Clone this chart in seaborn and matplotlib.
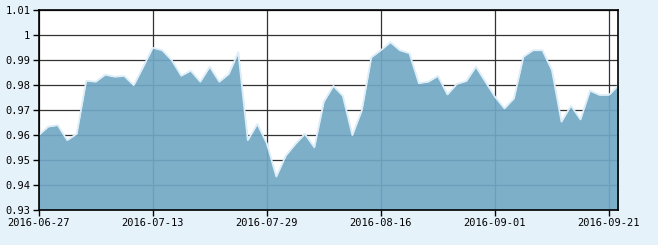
import matplotlib
matplotlib.use("Agg")
import matplotlib.pyplot as plt
import seaborn as sns
import pandas as pd

dates = [
    "2016-06-27", "2016-06-28", "2016-06-29", "2016-06-30", "2016-07-01",
    "2016-07-04", "2016-07-05", "2016-07-06", "2016-07-07", "2016-07-08",
    "2016-07-11", "2016-07-12", "2016-07-13", "2016-07-14", "2016-07-15",
    "2016-07-18", "2016-07-19", "2016-07-20", "2016-07-21", "2016-07-22",
    "2016-07-25", "2016-07-26", "2016-07-27", "2016-07-28", "2016-07-29",
    "2016-08-01", "2016-08-02", "2016-08-03", "2016-08-04", "2016-08-05",
    "2016-08-08", "2016-08-09", "2016-08-10", "2016-08-11", "2016-08-12",
    "2016-08-15", "2016-08-16", "2016-08-17", "2016-08-18", "2016-08-19",
    "2016-08-22", "2016-08-23", "2016-08-24", "2016-08-25", "2016-08-26",
    "2016-08-29", "2016-08-30", "2016-08-31", "2016-09-01", "2016-09-02",
    "2016-09-05", "2016-09-06", "2016-09-07", "2016-09-08", "2016-09-09",
    "2016-09-12", "2016-09-13", "2016-09-14", "2016-09-19", "2016-09-20",
    "2016-09-21", "2016-09-22",
]
values = [
    0.9600, 0.9634, 0.9640, 0.9580, 0.9605, 0.9818, 0.9814, 0.9842, 0.9834, 0.9837,
    0.9800, 0.9874, 0.9950, 0.9940, 0.9900, 0.9838, 0.9858, 0.9814, 0.9874, 0.9814,
    0.9845, 0.9932, 0.9580, 0.9645, 0.9567, 0.9434, 0.9518, 0.9564, 0.9605, 0.9551,
    0.9734, 0.9797, 0.9757, 0.9600, 0.9700, 0.9912, 0.9940, 0.9972, 0.9940, 0.9928,
    0.9808, 0.9814, 0.9837, 0.9763, 0.9805, 0.9817, 0.9874, 0.9814, 0.9754, 0.9707,
    0.9747, 0.9914, 0.9940, 0.9940, 0.9860, 0.9654, 0.9718, 0.9663, 0.9778, 0.9761,
    0.9761, 0.9800,
]
y_ticks = [0.93, 0.94, 0.95, 0.96, 0.97, 0.98, 0.99, 1.00, 1.01]
y_tick_labels = ["0.93", "0.94", "0.95", "0.96", "0.97", "0.98", "0.99", "1", "1.01"]
x_tick_step = 12

df = pd.DataFrame({"idx": list(range(len(dates))), "date": dates, "value": values})

sns.set_theme(style="white")
plt.rcParams["font.family"] = ["DejaVu Sans Mono"]

fig = plt.figure(figsize=(6.58, 2.45), dpi=100)
fig.patch.set_facecolor("#E6F2FA")
ax = fig.add_axes([38.7 / 658, 35 / 245, (618.5 - 38.7) / 658, (210 - 10.3) / 245])
ax.set_facecolor("white")

ax.fill_between(df["idx"], df["value"], 0.93, color="#72A8C5", alpha=0.92, lw=0, zorder=3)
sns.lineplot(data=df, x="idx", y="value", ax=ax, color="#DDEEF8", linewidth=1.3, zorder=4)

ax.set_xlim(0, len(dates) - 1)
ax.set_ylim(0.93, 1.01)
xt = list(range(0, len(dates), x_tick_step))
ax.set_xticks(xt)
ax.set_xticklabels([dates[i] for i in xt])
ax.set_yticks(y_ticks)
ax.set_yticklabels(y_tick_labels)

ax.grid(True, color="#333333", linewidth=0.9, zorder=1)
ax.set_axisbelow(True)
for s in ax.spines.values():
    s.set_color("black")
    s.set_linewidth(1.2)
    s.set_zorder(5)

ax.tick_params(axis="both", which="major", labelsize=7.5, colors="black",
               length=4, width=1, direction="out", pad=2)
ax.tick_params(axis="x", bottom=True)
ax.tick_params(axis="y", left=True)
ax.set_xlabel("")
ax.set_ylabel("")

fig.savefig("out.png", dpi=100, facecolor=fig.get_facecolor())
